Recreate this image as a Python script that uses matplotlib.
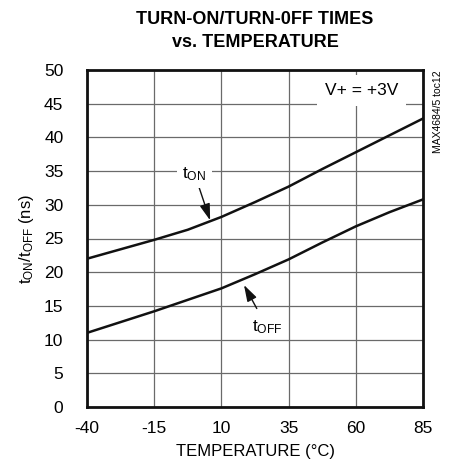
import matplotlib.pyplot as plt

plt.rcParams['font.family'] = ['Liberation Sans', 'DejaVu Sans']
plt.rcParams['axes.unicode_minus'] = False

# Data
temp = [-40, -27.5, -15, -2.5, 10, 22.5, 35, 47.5, 60, 72.5, 85]
t_on = [22.0, 23.4, 24.8, 26.3, 28.2, 30.4, 32.7, 35.3, 37.8, 40.3, 42.8]
t_off = [11.0, 12.6, 14.2, 15.9, 17.6, 19.7, 21.9, 24.4, 26.8, 28.9, 30.8]
x_ticks = [-40, -15, 10, 35, 60, 85]
y_ticks = [0, 5, 10, 15, 20, 25, 30, 35, 40, 45, 50]

fig = plt.figure(figsize=(4.49, 4.70), dpi=100)
ax = fig.add_axes([87/449, 1 - 407/470, 336/449, 337/470])

ax.plot(temp, t_on, color='#111111', lw=1.8, zorder=3)
ax.plot(temp, t_off, color='#111111', lw=1.8, zorder=3)

ax.set_xlim(-40, 85)
ax.set_ylim(0, 50)
ax.set_xticks(x_ticks)
ax.set_yticks(y_ticks)
ax.grid(True, color='#6a6a6a', lw=0.9)
ax.tick_params(length=0, labelsize=12.5, pad=10)
ax.tick_params(axis='y', pad=17)
for s in ax.spines.values():
    s.set_linewidth(2.0)
    s.set_color('#111111')

ax.set_xlabel('TEMPERATURE (°C)', fontsize=12, labelpad=6)
ax.set_ylabel(r'$\mathregular{t_{ON}/t_{OFF}}$ (ns)', fontsize=12, labelpad=6)

fig.suptitle('TURN-ON/TURN-0FF TIMES\nvs. TEMPERATURE', x=255/449, y=0.976,
             fontsize=13, fontweight='bold', linespacing=1.45, va='top')

# annotations
ax.annotate(r'$\mathregular{t_{ON}}$', xy=(5.8, 27.7), xytext=(0, 34.6),
            fontsize=12.5, ha='center', va='center',
            bbox=dict(boxstyle='square,pad=0.3', fc='white', ec='none'),
            arrowprops=dict(arrowstyle='-|>,head_length=0.8,head_width=0.25',
                            color='#111111', lw=1.0, shrinkA=0, shrinkB=0),
            zorder=4)
ax.annotate(r'$\mathregular{t_{OFF}}$', xy=(18.4, 18.1), xytext=(27, 11.8),
            fontsize=12.5, ha='center', va='center',
            arrowprops=dict(arrowstyle='-|>,head_length=0.8,head_width=0.25',
                            color='#111111', lw=1.0, shrinkA=6, shrinkB=0),
            zorder=4)
ax.text(62.3, 47.0, 'V+ = +3V', fontsize=12.5, ha='center', va='center',
        bbox=dict(boxstyle='square,pad=0.45', fc='white', ec='none'), zorder=4)

fig.text(438/449, 1 - 70/470, 'MAX4684/5 toc12', rotation=90, fontsize=7.5,
         ha='center', va='top')

fig.savefig('out.png', dpi=100)
